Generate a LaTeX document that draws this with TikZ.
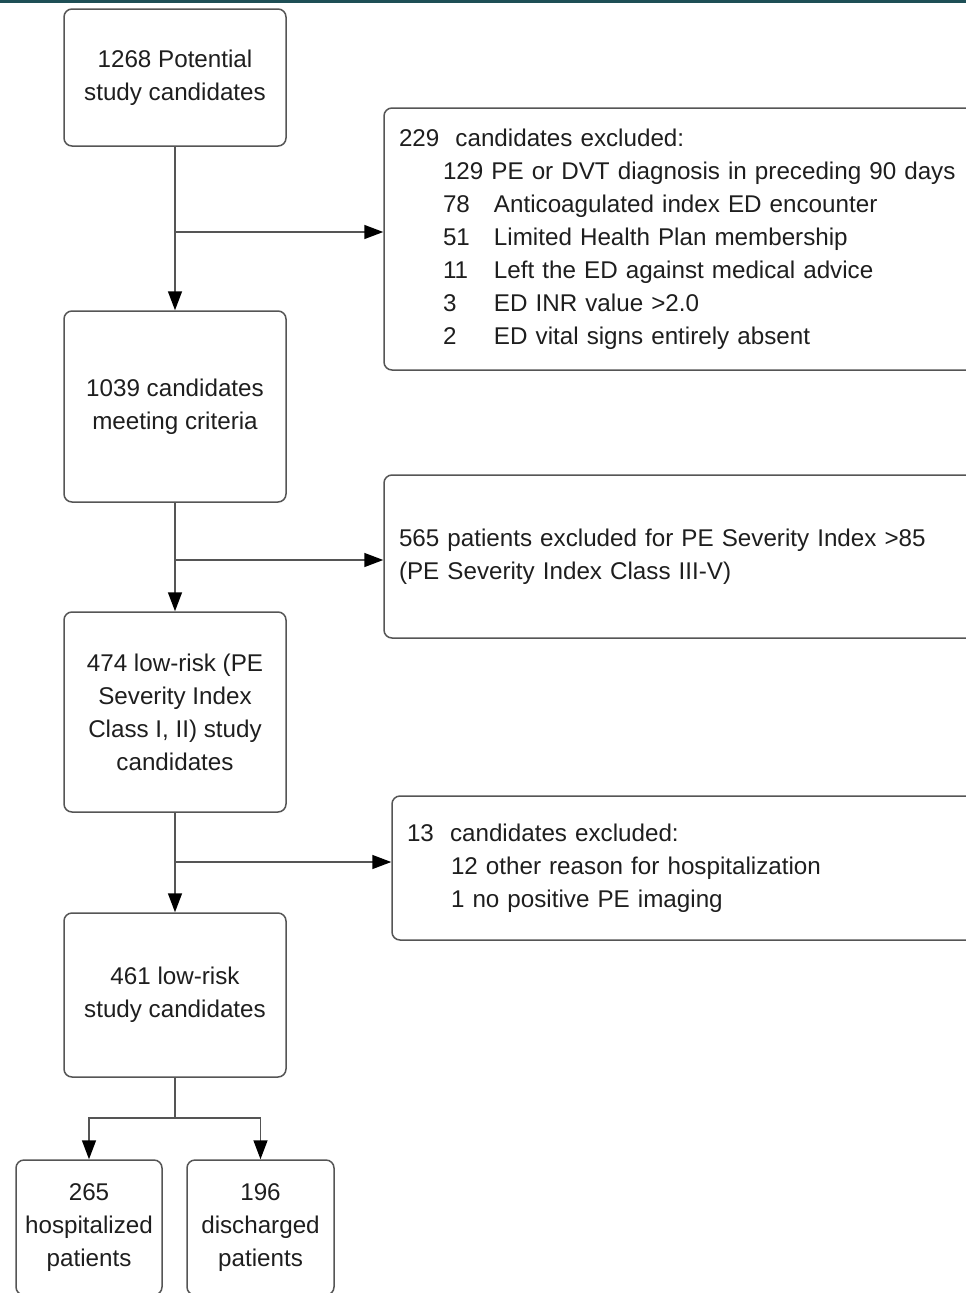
\documentclass[tikz,border=0pt]{standalone}
\usepackage{fontspec}
\setmainfont{Liberation Sans}
\usetikzlibrary{arrows.meta}
\definecolor{linec}{HTML}{555555}
\definecolor{textc}{HTML}{1E1E1E}
\definecolor{bandc}{HTML}{1E4F56}
\begin{document}
\begin{tikzpicture}[x=1pt,y=-1pt,
  box/.style={draw=linec, line width=1.5pt, rounded corners=8pt, align=center,
    text=textc, inner sep=0pt, font=\fontsize{24.2}{33}\selectfont},
  exbox/.style={box, align=left, inner xsep=15pt, text width=570pt},
  conn/.style={draw=linec, line width=1.5pt},
  arr/.style={conn, -{Triangle[length=19pt,width=14pt,color=black,fill=black]}}]
\clip (0,0) rectangle (966,1293);
\fill[bandc] (0,0) rectangle (966,3);
% main boxes
\node[box, minimum width=222pt, minimum height=137pt] (b1) at (175,77.5) {1268 Potential\\study candidates};
\node[box, minimum width=222pt, minimum height=191pt] (b2) at (175,406.5) {1039 candidates\\meeting criteria};
\node[box, minimum width=222pt, minimum height=200pt] (b3) at (175,712) {474 low-risk (PE\\Severity Index\\Class I, II) study\\candidates};
\node[box, minimum width=222pt, minimum height=164pt] (b4) at (175,995) {461 low-risk\\study candidates};
\node[box, minimum width=146pt, minimum height=135pt] (b5) at (89,1227.5) {265\\hospitalized\\patients};
\node[box, minimum width=147pt, minimum height=135pt] (b6) at (260.5,1227.5) {196\\discharged\\patients};
% exclusion boxes
\node[exbox, minimum height=262pt] (e1) at (684,239) {229\ \ candidates excluded:\\
\hspace*{44pt}129 PE or DVT diagnosis in preceding 90 days\\
\hspace*{44pt}\makebox[51pt][l]{78}Anticoagulated index ED encounter\\
\hspace*{44pt}\makebox[51pt][l]{51}Limited Health Plan membership\\
\hspace*{44pt}\makebox[51pt][l]{11}Left the ED against medical advice\\
\hspace*{44pt}\makebox[51pt][l]{3}ED INR value >2.0\\
\hspace*{44pt}\makebox[51pt][l]{2}ED vital signs entirely absent};
\node[exbox, minimum height=163pt] (e2) at (684,556.5) {565 patients excluded for PE Severity Index >85\\(PE Severity Index Class III-V)};
\node[exbox, minimum height=144pt] (e3) at (692,868) {13\ \ candidates excluded:\\
\hspace*{44pt}12 other reason for hospitalization\\
\hspace*{44pt}1 no positive PE imaging};
% connectors
\coordinate (j1) at (175,232);
\coordinate (j2) at (175,560);
\coordinate (j3) at (175,862);
\coordinate (j4) at (175,1118);
\draw[arr] (b1.south) -- (b2.north);
\draw[arr] (j1) -- (j1 -| e1.west);
\draw[arr] (b2.south) -- (b3.north);
\draw[arr] (j2) -- (j2 -| e2.west);
\draw[arr] (b3.south) -- (b4.north);
\draw[arr] (j3) -- (j3 -| e3.west);
\draw[conn] (b4.south) -- (j4);
\draw[arr] (j4) -| (b5.north);
\draw[arr] (j4) -| (b6.north);
\end{tikzpicture}
\end{document}
